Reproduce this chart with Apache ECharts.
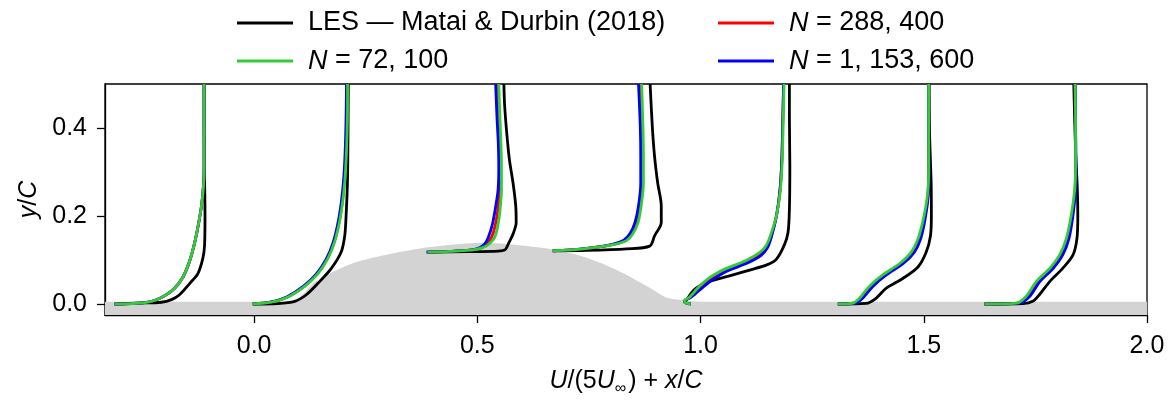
<!DOCTYPE html>
<html><head><meta charset="utf-8">
<script src="https://cdn.jsdelivr.net/npm/echarts@6/dist/echarts.min.js"></script>
<style>html,body{margin:0;padding:0;background:#fff}#c{width:1174px;height:402px}</style>
</head><body><div id="c"></div>
<script>
// ---- tick labels ----
const xTicks = [0, 0.5, 1.0, 1.5, 2.0];
const yTicks = [0, 0.2, 0.4];

// ---- series names ----
const nameLES = 'LES — Matai & Durbin (2018)';
const name72 = 'N = 72, 100';
const name288 = 'N = 288, 400';
const name1153 = 'N = 1, 153, 600';

// ---- bump / wall geometry (x/C, y/C) ----
const bump = [[-0.34,0.005],[0.08,0.005],[0.105,0.018],[0.139,0.052],[0.214,0.090],[0.288,0.110],[0.363,0.125],
  [0.438,0.134],[0.512,0.139],[0.587,0.134],[0.662,0.125],[0.736,0.108],[0.811,0.078],[0.886,0.037],
  [0.923,0.015],[0.960,0.009],[1.0,0.005],[2.01,0.005]];

// ---- LES (Matai & Durbin 2018), one list per station ----
const les = [
  [[-0.3124,0],[-0.260,0.002],[-0.208,0.004],[-0.185,0.010],[-0.167,0.021],[-0.144,0.047],[-0.126,0.069],[-0.115,0.103],[-0.111,0.133],[-0.110,0.200],[-0.1105,0.252],[-0.1115,0.312],[-0.112,0.5]],
  [[-0.003,0],[0.053,0.001],[0.091,0.006],[0.117,0.021],[0.143,0.047],[0.173,0.081],[0.195,0.118],[0.203,0.155],[0.206,0.200],[0.209,0.275],[0.210,0.349],[0.211,0.5]],
  [[0.388,0.118],[0.475,0.119],[0.535,0.1195],[0.561,0.1225],[0.571,0.140],[0.580,0.159],[0.587,0.185],[0.586,0.223],[0.580,0.275],[0.572,0.327],[0.566,0.387],[0.561,0.454],[0.5595,0.5]],
  [[0.669,0.121],[0.744,0.122],[0.834,0.1255],[0.886,0.1315],[0.897,0.155],[0.912,0.185],[0.912,0.223],[0.904,0.275],[0.897,0.335],[0.892,0.402],[0.887,0.5]],
  [[0.974,0],[0.964,0.0045],[0.9716,0.0135],[0.980,0.026],[0.990,0.036],[1.013,0.049],[1.058,0.062],[1.110,0.077],[1.151,0.090],[1.170,0.102],[1.188,0.135],[1.196,0.163],[1.199,0.215],[1.200,0.312],[1.199,0.424],[1.199,0.5]],
  [[1.3075,0],[1.371,0.0015],[1.393,0.013],[1.416,0.036],[1.453,0.058],[1.487,0.084],[1.5055,0.118],[1.515,0.155],[1.517,0.200],[1.5165,0.275],[1.513,0.387],[1.512,0.5]],
  [[1.636,0],[1.722,0.001],[1.744,0.006],[1.759,0.021],[1.782,0.051],[1.811,0.081],[1.834,0.111],[1.843,0.148],[1.845,0.200],[1.844,0.260],[1.840,0.349],[1.836,0.5]]
];

// ---- N = 72,100 ----
const n72 = [
  [[-0.3124,0],[-0.275,0.001],[-0.245,0.003],[-0.223,0.008],[-0.200,0.019],[-0.178,0.036],[-0.159,0.062],[-0.144,0.099],[-0.133,0.140],[-0.124,0.185],[-0.117,0.230],[-0.113,0.275],[-0.112,0.312],[-0.112,0.5]],
  [[-0.003,0],[0.038,0.004],[0.076,0.016],[0.113,0.040],[0.143,0.069],[0.165,0.103],[0.180,0.140],[0.191,0.185],[0.199,0.237],[0.204,0.290],[0.207,0.349],[0.209,0.424],[0.2094,0.5]],
  [[0.388,0.118],[0.438,0.1195],[0.490,0.123],[0.512,0.128],[0.527,0.137],[0.539,0.152],[0.546,0.178],[0.551,0.215],[0.554,0.260],[0.554,0.312],[0.553,0.364],[0.5506,0.424],[0.548,0.5]],
  [[0.669,0.121],[0.736,0.1255],[0.804,0.135],[0.834,0.144],[0.848,0.159],[0.860,0.185],[0.867,0.223],[0.872,0.275],[0.872,0.335],[0.871,0.402],[0.868,0.5]],
  [[0.978,0],[0.966,0.003],[0.964,0.008],[0.975,0.015],[0.983,0.024],[0.998,0.041],[1.020,0.060],[1.040,0.072],[1.058,0.081],[1.102,0.099],[1.132,0.1165],[1.147,0.133],[1.158,0.160],[1.170,0.200],[1.179,0.260],[1.183,0.327],[1.185,0.409],[1.187,0.5]],
  [[1.3075,0],[1.341,0.002],[1.356,0.013],[1.378,0.040],[1.408,0.066],[1.446,0.092],[1.472,0.118],[1.487,0.148],[1.499,0.193],[1.508,0.245],[1.511,0.297],[1.511,0.387],[1.511,0.5]],
  [[1.636,0],[1.707,0.002],[1.729,0.017],[1.752,0.051],[1.782,0.081],[1.804,0.111],[1.819,0.148],[1.830,0.200],[1.838,0.260],[1.840,0.312],[1.840,0.409],[1.839,0.5]]
];

// ---- N = 288,400 ----
const n288 = [
  [[-0.3124,0],[-0.275,0.001],[-0.245,0.003],[-0.223,0.008],[-0.200,0.019],[-0.178,0.036],[-0.159,0.062],[-0.144,0.099],[-0.133,0.140],[-0.124,0.185],[-0.117,0.230],[-0.113,0.275],[-0.112,0.312],[-0.112,0.5]],
  [[-0.003,0],[0.037,0.004],[0.075,0.016],[0.112,0.040],[0.142,0.069],[0.164,0.103],[0.179,0.140],[0.190,0.185],[0.198,0.237],[0.203,0.290],[0.206,0.349],[0.208,0.424],[0.208,0.5]],
  [[0.388,0.118],[0.438,0.1195],[0.489,0.123],[0.508,0.128],[0.521,0.137],[0.532,0.152],[0.540,0.178],[0.546,0.215],[0.550,0.260],[0.551,0.312],[0.550,0.364],[0.547,0.424],[0.5445,0.5]],
  [[0.669,0.121],[0.736,0.1255],[0.802,0.135],[0.831,0.1445],[0.845,0.1595],[0.857,0.185],[0.864,0.223],[0.869,0.275],[0.869,0.335],[0.868,0.402],[0.865,0.5]],
  [[0.978,0],[0.966,0.003],[0.965,0.008],[0.976,0.0145],[0.985,0.023],[1.000,0.038],[1.022,0.057],[1.059,0.078],[1.104,0.096],[1.134,0.113],[1.149,0.130],[1.159,0.158],[1.170,0.200],[1.178,0.260],[1.182,0.327],[1.184,0.409],[1.186,0.5]],
  [[1.3075,0],[1.344,0.002],[1.360,0.013],[1.382,0.040],[1.412,0.066],[1.450,0.092],[1.476,0.118],[1.490,0.148],[1.501,0.193],[1.509,0.245],[1.511,0.297],[1.511,0.387],[1.511,0.5]],
  [[1.636,0],[1.710,0.002],[1.733,0.017],[1.756,0.051],[1.786,0.081],[1.808,0.111],[1.822,0.148],[1.832,0.200],[1.839,0.260],[1.840,0.312],[1.840,0.409],[1.839,0.5]]
];

// ---- N = 1,153,600 ----
const n1153 = [
  [[-0.3124,0],[-0.275,0.001],[-0.245,0.003],[-0.223,0.008],[-0.200,0.019],[-0.178,0.036],[-0.159,0.062],[-0.144,0.099],[-0.133,0.140],[-0.124,0.185],[-0.117,0.230],[-0.113,0.275],[-0.112,0.312],[-0.112,0.5]],
  [[-0.003,0],[0.036,0.004],[0.073,0.016],[0.110,0.040],[0.140,0.069],[0.162,0.103],[0.177,0.140],[0.188,0.185],[0.196,0.237],[0.201,0.290],[0.204,0.349],[0.206,0.424],[0.207,0.5]],
  [[0.386,0.118],[0.438,0.1195],[0.488,0.123],[0.505,0.128],[0.516,0.136],[0.524,0.150],[0.533,0.178],[0.540,0.215],[0.5465,0.260],[0.548,0.312],[0.547,0.364],[0.544,0.424],[0.541,0.5]],
  [[0.669,0.121],[0.736,0.1255],[0.800,0.135],[0.828,0.145],[0.842,0.160],[0.853,0.185],[0.861,0.223],[0.866,0.275],[0.866,0.335],[0.865,0.402],[0.861,0.5]],
  [[0.978,0],[0.966,0.003],[0.965,0.008],[0.977,0.014],[0.987,0.022],[1.003,0.036],[1.025,0.054],[1.060,0.075],[1.105,0.093],[1.135,0.110],[1.150,0.128],[1.160,0.157],[1.170,0.200],[1.178,0.260],[1.182,0.327],[1.184,0.409],[1.186,0.5]],
  [[1.3075,0],[1.347,0.002],[1.363,0.013],[1.386,0.040],[1.416,0.066],[1.454,0.092],[1.479,0.118],[1.493,0.148],[1.503,0.193],[1.510,0.245],[1.512,0.297],[1.511,0.387],[1.511,0.5]],
  [[1.636,0],[1.714,0.002],[1.737,0.017],[1.760,0.051],[1.790,0.081],[1.811,0.111],[1.825,0.148],[1.834,0.200],[1.840,0.260],[1.841,0.312],[1.840,0.409],[1.839,0.5]]
];

const FONT = '"Liberation Sans", Arial, sans-serif';
const chart = echarts.init(document.getElementById('c'), null, {renderer: 'canvas'});

const series = [{
  type: 'line', name: 'wall', data: bump, smooth: 0.3, symbol: 'none', silent: true,
  lineStyle: {width: 0}, areaStyle: {color: '#d3d3d3', opacity: 1, origin: 'start'}, z: 1
}];
function addSet(arr, name, color) {
  arr.forEach(st => series.push({
    type: 'line', name: name, data: st, smooth: 0.3, symbol: 'none', showSymbol: false,
    lineStyle: {width: 2.8, color: color}, itemStyle: {color: color}, z: 3, animation: false
  }));
}
addSet(les, nameLES, '#000000');
addSet(n288, name288, '#ff0000');
addSet(n1153, name1153, '#0000ff');
addSet(n72, name72, '#32cd32');

const LF = 27;
const legendText = {
  fontFamily: FONT, fontSize: LF, color: '#000', lineHeight: 30, padding: [0, 0, 0, 10],
  rich: {
    i: {fontStyle: 'italic', fontFamily: FONT, fontSize: LF, color: '#000'},
    t: {fontFamily: FONT, fontSize: LF, color: '#000'}
  }
};
function legFmt(n) {
  return n.charAt(0) === 'N' ? '{i|N}{t|' + n.slice(1) + '}' : '{t|' + n + '}';
}
const legBase = {
  orient: 'vertical', top: 3, icon: 'rect', itemWidth: 56, itemHeight: 3.2, itemGap: 8,
  textStyle: legendText, formatter: legFmt, selectedMode: false
};

chart.setOption({
  animation: false,
  backgroundColor: '#fff',
  grid: {left: 105, right: 27, top: 84, bottom: 84, show: true, borderColor: '#000', borderWidth: 1.3, backgroundColor: 'transparent'},
  legend: [
    Object.assign({}, legBase, {left: 232, data: [nameLES, name72]}),
    Object.assign({}, legBase, {left: 713, data: [name288, name1153]})
  ],
  xAxis: {
    type: 'value', min: -0.334, max: 2.0,
    name: '{i|U}{r|/(5}{i|U}{s|∞}{r|) + }{i|x}{r|/}{i|C}',
    nameLocation: 'middle', nameGap: 50,
    nameTextStyle: {
      rich: {
        i: {fontStyle: 'italic', fontFamily: FONT, fontSize: 25, color: '#000'},
        r: {fontFamily: FONT, fontSize: 25, color: '#000'},
        s: {fontFamily: FONT, fontSize: 16, color: '#000', padding: [16, 2, 0, 0]}
      }
    },
    axisLine: {show: true, onZero: false, lineStyle: {color: '#000', width: 1.3}},
    axisTick: {show: true, inside: false, length: 8, customValues: xTicks, lineStyle: {color: '#000', width: 1.3}},
    axisLabel: {customValues: xTicks, formatter: v => v.toFixed(1), fontFamily: FONT, fontSize: 25, color: '#000', margin: 19},
    splitLine: {show: false}
  },
  yAxis: {
    type: 'value', min: -0.025, max: 0.5,
    name: '{i|y}{r|/}{i|C}',
    nameLocation: 'middle', nameRotate: 90, nameGap: 46,
    nameTextStyle: {
      rich: {
        i: {fontStyle: 'italic', fontFamily: FONT, fontSize: 25, color: '#000'},
        r: {fontFamily: FONT, fontSize: 25, color: '#000'}
      }
    },
    axisLine: {show: true, onZero: false, lineStyle: {color: '#000', width: 1.3}},
    axisTick: {show: true, inside: false, length: 8, customValues: yTicks, lineStyle: {color: '#000', width: 1.3}},
    axisLabel: {customValues: yTicks, formatter: v => v.toFixed(1), fontFamily: FONT, fontSize: 25, color: '#000', margin: 18},
    splitLine: {show: false}
  },
  series: series
});
</script>
</body></html>
